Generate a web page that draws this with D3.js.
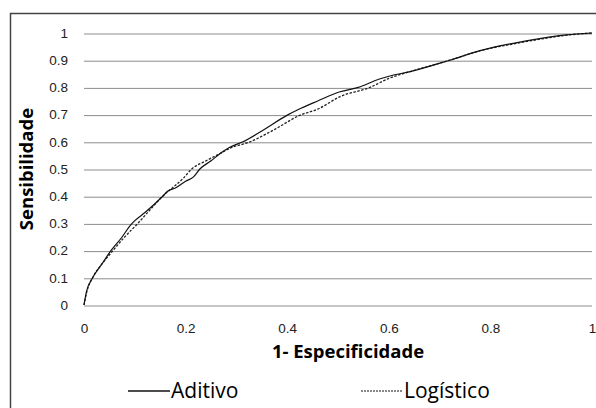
<!DOCTYPE html>
<html lang="pt">
    <head>
        <meta charset="UTF-8" />
        <title>Curva ROC</title>
        <style>
            body {
                margin: 0;
                background: #fff;
            }
            svg {
                display: block;
                font-family: 'Open Sans', sans-serif;
            }
            .grid line {
                stroke: #8c8c8c;
                stroke-width: 1px;
            }
            .tick text {
                fill: #222;
                font-size: 13.5px;
            }
            .title {
                font-weight: bold;
                font-size: 18.5px;
                fill: #000;
            }
            .legend text {
                font-size: 21px;
                fill: #000;
            }
        </style>
    </head>
    <body>
        <svg width="596" height="408"></svg>
        <script src="https://d3js.org/d3.v7.min.js"></script>
        <script>
            // ROC points: [1 - especificidade, sensibilidade]
            const aditivo = [
                [0, 0], [0.005, 0.05], [0.017, 0.1], [0.035, 0.15], [0.053, 0.2], [0.075, 0.25],
                [0.09, 0.29], [0.1, 0.31], [0.12, 0.34], [0.155, 0.4], [0.165, 0.419], [0.18, 0.43],
                [0.2, 0.455], [0.215, 0.47], [0.228, 0.5], [0.25, 0.53], [0.268, 0.557], [0.287, 0.58],
                [0.313, 0.6], [0.35, 0.64], [0.402, 0.7], [0.42, 0.717], [0.46, 0.75], [0.504, 0.784],
                [0.54, 0.8], [0.58, 0.83], [0.602, 0.842], [0.642, 0.858], [0.72, 0.9], [0.78, 0.935],
                [0.845, 0.962], [0.9, 0.98], [0.95, 0.993], [1, 1]
            ];
            const logistico = [
                [0, 0], [0.005, 0.045], [0.017, 0.1], [0.035, 0.15], [0.057, 0.2], [0.08, 0.25],
                [0.106, 0.3], [0.13, 0.35], [0.155, 0.4], [0.18, 0.44], [0.195, 0.465], [0.212, 0.5],
                [0.24, 0.53], [0.268, 0.557], [0.287, 0.576], [0.327, 0.6], [0.37, 0.64], [0.428, 0.7],
                [0.46, 0.72], [0.504, 0.766], [0.563, 0.8], [0.6, 0.833], [0.642, 0.858], [0.72, 0.9],
                [0.78, 0.935], [0.845, 0.96], [0.9, 0.978], [0.95, 0.992], [1, 1]
            ];
            const xTicks = [0, 0.2, 0.4, 0.6, 0.8, 1];
            const yTicks = [0, 0.1, 0.2, 0.3, 0.4, 0.5, 0.6, 0.7, 0.8, 0.9, 1];
            const seriesNames = ['Aditivo', 'Logístico'];

            const svg = d3.select('svg');

            // outer chart border (right / bottom edges fall off the picture)
            svg.append('rect')
                .attr('x', 10.5)
                .attr('y', 13.5)
                .attr('width', 600)
                .attr('height', 420)
                .attr('fill', 'none')
                .attr('stroke', '#444')
                .attr('stroke-width', 1.5);

            const plot = { left: 84, right: 592, top: 33, bottom: 305 };

            const x = d3.scaleLinear().domain([0, 1]).range([plot.left, plot.right]);
            const y = d3.scaleLinear().domain([0, 1]).range([plot.bottom, plot.top]);

            // horizontal gridlines with y labels
            const yAxis = svg
                .append('g')
                .attr('class', 'grid')
                .attr('transform', `translate(${plot.left},0)`)
                .call(
                    d3.axisLeft(y)
                        .tickValues(yTicks)
                        .tickFormat(d3.format('~g'))
                        .tickSize(-(plot.right - plot.left))
                        .tickPadding(16)
                );
            yAxis.select('.domain').remove();
            yAxis.selectAll('.tick line').attr('transform', 'translate(0,0.5)');

            // x labels (no vertical gridlines)
            const xAxis = svg
                .append('g')
                .attr('transform', `translate(0,${plot.bottom})`)
                .call(d3.axisBottom(x).tickValues(xTicks).tickFormat(d3.format('~g')).tickSize(0).tickPadding(18));
            xAxis.select('.domain').remove();

            const line = d3
                .line()
                .x((d) => x(d[0]))
                .y((d) => y(d[1]))
                .curve(d3.curveMonotoneX);

            svg.append('path')
                .datum(logistico)
                .attr('fill', 'none')
                .attr('stroke', '#222')
                .attr('stroke-width', 1.3)
                .attr('stroke-dasharray', '2.5,1.5')
                .attr('d', line);

            svg.append('path')
                .datum(aditivo)
                .attr('fill', 'none')
                .attr('stroke', '#111')
                .attr('stroke-width', 1.2)
                .attr('d', line);

            // axis titles
            svg.append('text')
                .attr('class', 'title')
                .attr('x', (plot.left + plot.right) / 2 + 10)
                .attr('y', 358)
                .attr('text-anchor', 'middle')
                .text('1- Especificidade');

            svg.append('text')
                .attr('class', 'title')
                .attr('transform', `translate(33,${(plot.top + plot.bottom) / 2}) rotate(-90)`)
                .attr('text-anchor', 'middle')
                .text('Sensibilidade');

            // legend
            const legend = svg.append('g').attr('class', 'legend');
            const legendX = [128, 361];
            seriesNames.forEach((name, i) => {
                const g = legend.append('g').attr('transform', `translate(${legendX[i]},391)`);
                g.append('line')
                    .attr('x1', 0)
                    .attr('x2', 42)
                    .attr('stroke', '#111')
                    .attr('stroke-width', i === 0 ? 1.3 : 1)
                    .attr('stroke-dasharray', i === 0 ? null : '2,1');
                g.append('text').attr('x', 43).attr('y', 7).text(name);
            });
        </script>
    </body>
</html>
